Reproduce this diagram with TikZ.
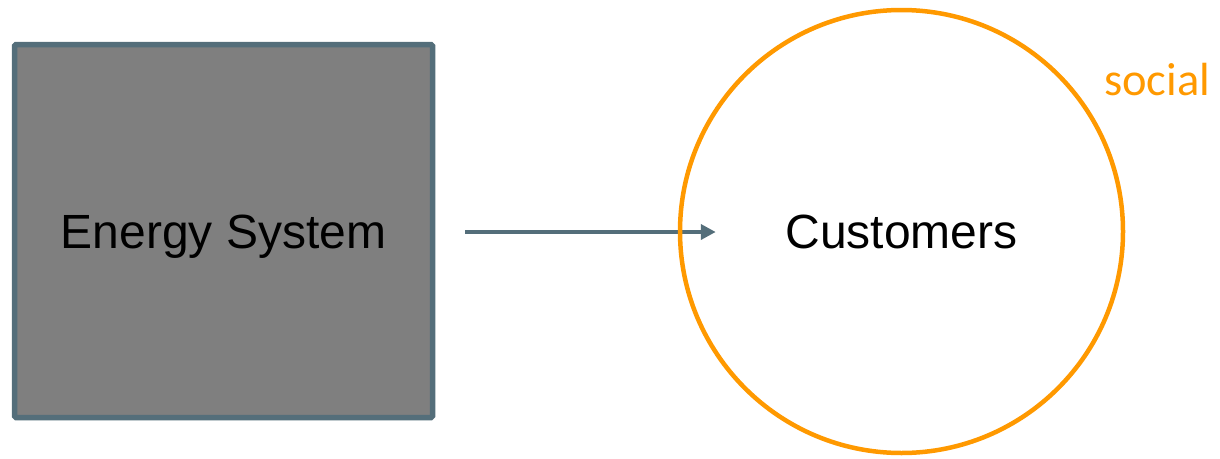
\documentclass[tikz,border=0pt]{standalone}
\usepackage{fontspec}
\setmainfont{Liberation Sans}
\newfontfamily\calib{Carlito}
\usetikzlibrary{arrows.meta,shadows,backgrounds}
\definecolor{slate}{HTML}{546E7A}
\definecolor{boxgray}{HTML}{7F7F7F}
\definecolor{orng}{HTML}{FF9900}
\tikzset{
  sysbox/.style={draw=slate, line width=5.5pt, fill=boxgray, rounded corners=1.5pt,
    minimum width=418pt, minimum height=373pt, inner sep=0pt,
    text height=34pt, text depth=0pt, font=\fontsize{48}{52}\selectfont,
    drop shadow={opacity=0.2, shadow xshift=1.5pt, shadow yshift=-2.5pt}},
  custcircle/.style={circle, draw=orng, line width=4.5pt, minimum size=443pt, inner sep=0pt,
    text height=34pt, text depth=0pt, font=\fontsize{48}{52}\selectfont},
  flow/.style={draw=slate, line width=4pt, -{Triangle[length=15pt,width=15pt]}},
  lbl/.style={text=orng, inner sep=0pt, font=\calib\fontsize{46.5}{50}\selectfont}
}
\begin{document}
\begin{tikzpicture}[x=1pt,y=-1pt]
\useasboundingbox (0,0) rectangle (1220,458);
\node[sysbox] (es) at (223.5,231) {Energy System};
\node[custcircle] (cu) at (901.5,231.5) {Customers};
\node[lbl, anchor=base west] (soc) at (1104,95) {social};
\coordinate (a0) at ([xshift=30pt]es.east |- 0,232);
\coordinate (a1) at ([xshift=38pt]cu.west |- 0,232);
\begin{scope}[on background layer]
\draw[flow] (a0) -- (a1);
\end{scope}
\end{tikzpicture}
\end{document}
